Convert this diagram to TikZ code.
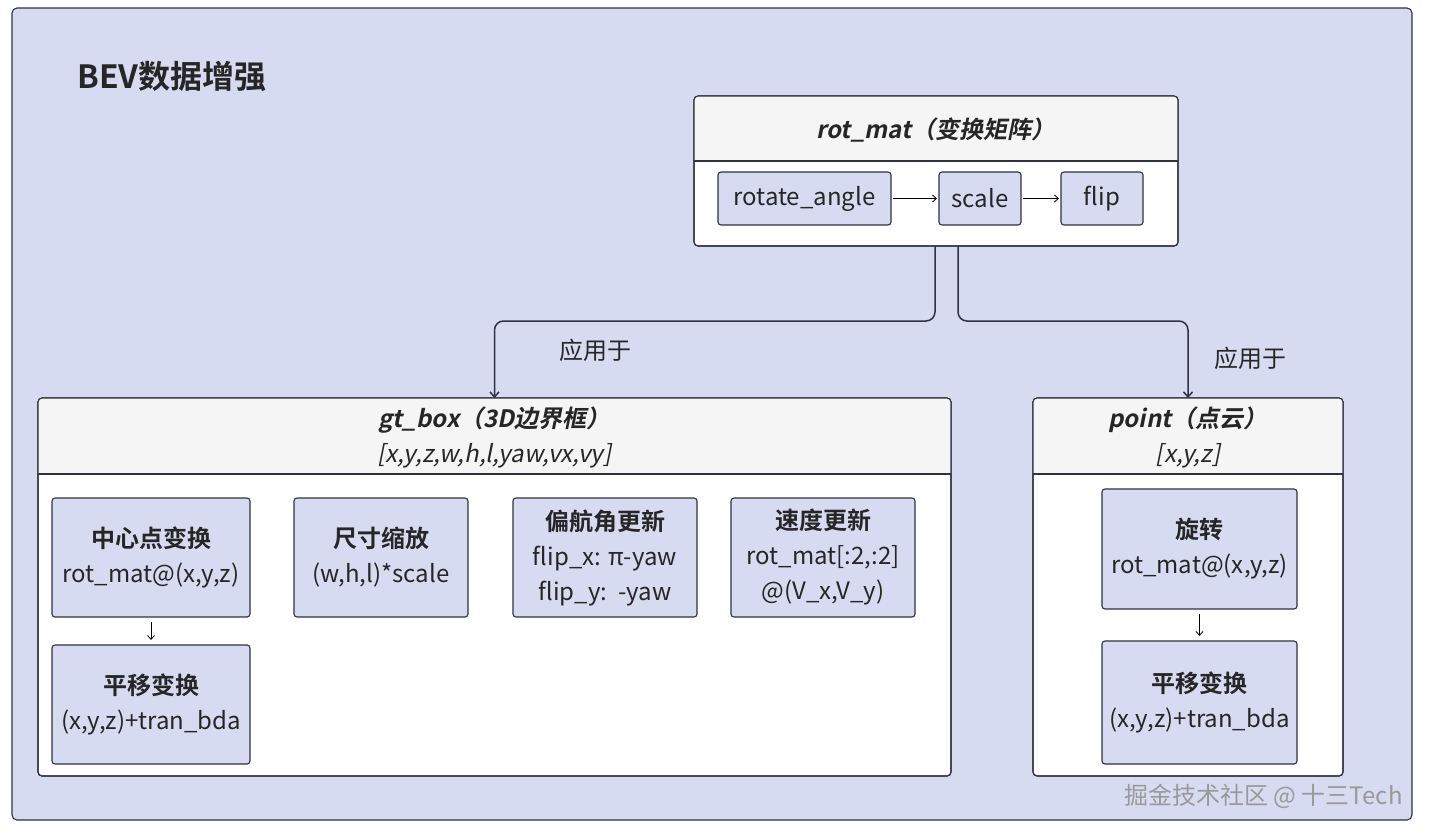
\documentclass[tikz,border=0pt]{standalone}
\usepackage{fontspec}
\setmainfont{Noto Sans CJK SC}[BoldFont={Noto Sans CJK SC Bold},ItalicFont={Noto Sans CJK SC},ItalicFeatures={FakeSlant=0.2},BoldItalicFont={Noto Sans CJK SC Bold},BoldItalicFeatures={FakeSlant=0.2}]
\usepackage{tikz}
\usetikzlibrary{arrows.meta, positioning}
\definecolor{bevbg}{HTML}{D7DBF1}
\definecolor{headgray}{HTML}{F5F5F5}
\definecolor{linedark}{HTML}{2F3242}

\begin{document}
\begin{tikzpicture}[x=1pt,y=-1pt,
  every node/.style={outer sep=0pt, text=black!85},
  group/.style={draw=linedark, line width=1.1pt, fill=white, rounded corners=4pt},
  op/.style={draw=linedark, line width=1.1pt, fill=bevbg, rounded corners=3pt, align=center, font=\fontsize{24}{35}\selectfont},
  flow/.style={line width=0.8pt, -{Straight Barb[length=4pt,width=7pt]}, shorten <=2pt, shorten >=2pt},
  apply/.style={draw=linedark, line width=1.5pt, rounded corners=9pt, -{Straight Barb[length=5pt,width=9pt]}},
  headtext/.style={font=\fontsize{24}{28}\selectfont\bfseries\itshape},
  subtext/.style={font=\fontsize{24}{28}\selectfont\itshape}]
\useasboundingbox (0,0) rectangle (1430,833);

% Outer frame
\draw[draw=linedark, line width=1.1pt, fill=bevbg, rounded corners=5pt] (12,8) rectangle (1412,820);
\node[anchor=west, font=\fontsize{32}{36}\selectfont\bfseries] (title) at (74,76) {BEV数据增强};

% rot_mat box
\node[group, minimum width=484pt, minimum height=150pt] (rotmat) at (936,171) {};
\begin{scope}
\clip[rounded corners=4pt] (rotmat.north west) rectangle (rotmat.south east);
\fill[headgray] (rotmat.north west) rectangle (rotmat.east |- 0,161);
\end{scope}
\draw[linedark, line width=1.1pt] (rotmat.west |- 0,161) -- (rotmat.east |- 0,161);
\draw[group, fill=none] (rotmat.north west) rectangle (rotmat.south east);
\node[headtext] (rotmattitle) at (936,130) {rot\_mat（变换矩阵）};

\node[op, minimum width=173pt, minimum height=53pt] (rotang) at (804.5,198.5) {rotate\_angle};
\node[op, minimum width=82pt, minimum height=53pt, right=48pt of rotang] (scale) {scale};
\node[op, minimum width=82pt, minimum height=53pt, right=40pt of scale] (flip) {flip};
\draw[flow] (rotang) -- (scale);
\draw[flow] (scale) -- (flip);

% gt_box
\node[group, minimum width=913pt, minimum height=378pt] (gtbox) at (494.5,587) {};
\begin{scope}
\clip[rounded corners=4pt] (gtbox.north west) rectangle (gtbox.south east);
\fill[headgray] (gtbox.north west) rectangle (gtbox.east |- 0,474);
\end{scope}
\draw[linedark, line width=1.1pt] (gtbox.west |- 0,474) -- (gtbox.east |- 0,474);
\draw[group, fill=none] (gtbox.north west) rectangle (gtbox.south east);
\node[headtext] (gttitle) at (494.5,420) {gt\_box（3D边界框）};
\node[subtext] (gtsub) at (494.5,456) {[x,y,z,w,h,l,yaw,vx,vy]};

\node[op, minimum width=198pt, minimum height=119pt] (center) at (151,557.5) {\textbf{中心点变换}\\rot\_mat@(x,y,z)};
\node[op, minimum width=174pt, minimum height=119pt, right=44pt of center] (size) {\textbf{尺寸缩放}\\(w,h,l)*scale};
\node[op, minimum width=184pt, minimum height=119pt, right=45pt of size] (yaw) {\textbf{偏航角更新}\\flip\_x: π-yaw\\flip\_y:~~-yaw};
\node[op, minimum width=184pt, minimum height=119pt, right=34pt of yaw] (vel) {\textbf{速度更新}\\rot\_mat[:2,:2]\\@(V\_x,V\_y)};
\node[op, minimum width=198pt, minimum height=119pt, below=28pt of center] (gttrans) {\textbf{平移变换}\\(x,y,z)+tran\_bda};
\draw[flow, shorten <=5pt, shorten >=5pt] (center) -- (gttrans);

% point
\node[group, minimum width=310pt, minimum height=378pt] (point) at (1188,587) {};
\begin{scope}
\clip[rounded corners=4pt] (point.north west) rectangle (point.south east);
\fill[headgray] (point.north west) rectangle (point.east |- 0,474);
\end{scope}
\draw[linedark, line width=1.1pt] (point.west |- 0,474) -- (point.east |- 0,474);
\draw[group, fill=none] (point.north west) rectangle (point.south east);
\node[headtext] (pttitle) at (1188,420) {point（点云）};
\node[subtext] (ptsub) at (1188,456) {[x,y,z]};

\node[op, minimum width=195pt, minimum height=120pt] (rotate) at (1199.5,549) {\textbf{旋转}\\rot\_mat@(x,y,z)};
\node[op, minimum width=195pt, minimum height=123pt, below=32pt of rotate] (pttrans) {\textbf{平移变换}\\(x,y,z)+tran\_bda};
\draw[flow, shorten <=5pt, shorten >=5pt] (rotate) -- (pttrans);

% applied to
\draw[apply] ([xshift=-1pt]rotmat.south) -- ++(0,75) -| (gtbox.north);
\draw[apply] ([xshift=22pt]rotmat.south) -- ++(0,75) -| (point.north);
\node[font=\fontsize{24}{28}\selectfont] (apply1) at (595,350) {应用于};
\node[font=\fontsize{24}{28}\selectfont] (apply2) at (1250,358) {应用于};

% watermark
\node[anchor=east, text=black!40, font=\fontsize{24}{28}\selectfont] (mark) at (1406,796) {掘金技术社区 @ 十三Tech};
\end{tikzpicture}
\end{document}
